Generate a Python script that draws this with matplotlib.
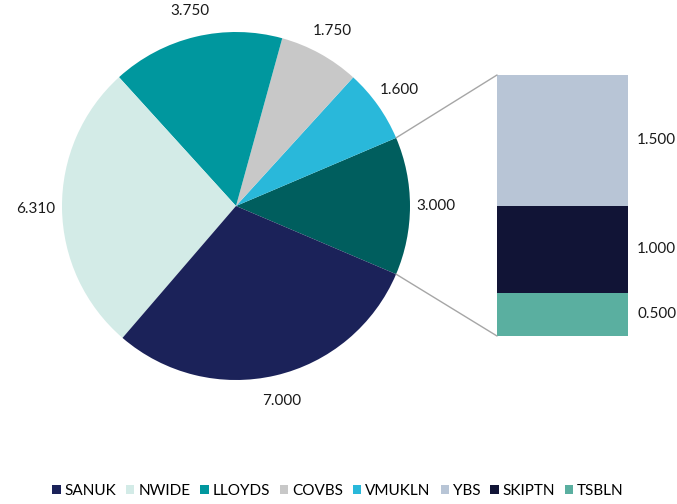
import numpy as np
import matplotlib.pyplot as plt
from matplotlib.patches import ConnectionPatch, Patch

plt.rcParams['font.family'] = ['Lato', 'DejaVu Sans']

# pie: main slices plus the "other" slice that is broken out into the bar
pie_names = ['Other', 'VMUKLN', 'COVBS', 'LLOYDS', 'NWIDE', 'SANUK']
pie_vals = [3.000, 1.600, 1.750, 3.750, 6.310, 7.000]
pie_cols = ['#005e5e', '#29b8da', '#c8c8c8', '#00979e', '#d3ebe7', '#1b2259']

bar_names = ['TSBLN', 'SKIPTN', 'YBS']
bar_vals = [0.500, 1.000, 1.500]
bar_cols = ['#5aafa0', '#111436', '#b8c5d6']

legend_order = ['SANUK', 'NWIDE', 'LLOYDS', 'COVBS', 'VMUKLN', 'YBS', 'SKIPTN', 'TSBLN']
col_map = dict(zip(pie_names + bar_names, pie_cols + bar_cols))

W, H = 677, 504
fig = plt.figure(figsize=(W/100, H/100), dpi=100)

cx, cy, r = 236, 206, 174
ax = fig.add_axes([(cx - r)/W, (H - cy - r)/H, 2*r/W, 2*r/H])
start = -pie_vals[0] / sum(pie_vals) * 360 / 2
wedges, _ = ax.pie(pie_vals, colors=pie_cols, startangle=start, counterclock=True,
                   radius=1, wedgeprops=dict(linewidth=0))
ax.set_xlim(-1, 1)
ax.set_ylim(-1, 1)
ax.set_aspect('equal')
ax.axis('off')

for w, v in zip(wedges, pie_vals):
    mid = np.deg2rad((w.theta1 + w.theta2) / 2)
    d = 1.15
    ax.text(d*np.cos(mid), d*np.sin(mid), f'{v:.3f}', ha='center', va='center',
            fontsize=11, color='#1a1a1a')

# stacked bar
bx0, bx1, by0, by1 = 497, 628, 75, 336
bax = fig.add_axes([bx0/W, (H - by1)/H, (bx1 - bx0)/W, (by1 - by0)/H])
bottom = 0
for n, v, c in zip(bar_names, bar_vals, bar_cols):
    bax.bar(0, v, width=1, bottom=bottom, color=c, linewidth=0)
    bax.text(1.22, bottom + v/2, f'{v:.3f}', ha='center', va='center', fontsize=11,
             color='#1a1a1a', transform=bax.get_yaxis_transform())
    bottom += v
bax.set_xlim(-0.5, 0.5)
bax.set_ylim(0, sum(bar_vals))
bax.axis('off')

# connector lines
t1, t2 = wedges[0].theta1, wedges[0].theta2
for th, yb in [(t2, sum(bar_vals)), (t1, 0)]:
    a = np.deg2rad(th)
    con = ConnectionPatch(xyA=(np.cos(a), np.sin(a)), coordsA=ax.transData,
                          xyB=(-0.5, yb), coordsB=bax.transData,
                          color='#a6a6a6', linewidth=1)
    fig.add_artist(con)

handles = [Patch(facecolor=col_map[n], edgecolor='none') for n in legend_order]
fig.legend(handles, legend_order, loc='center', bbox_to_anchor=(338/W, (H - 491)/H),
           ncol=8, frameon=False, fontsize=11, handlelength=0.55, handleheight=0.55,
           handletextpad=0.25, columnspacing=0.65)

fig.savefig('out.png', dpi=100)
